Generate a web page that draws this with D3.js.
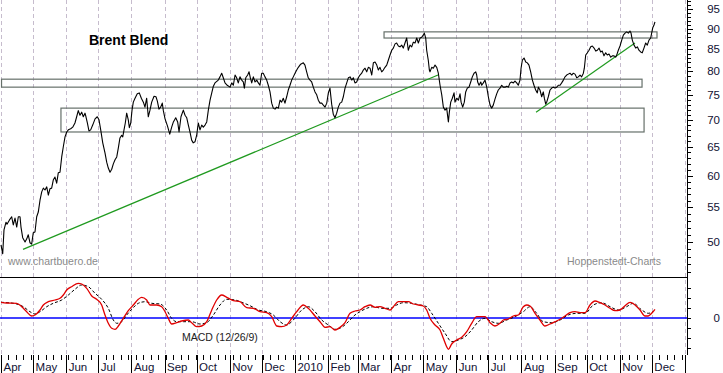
<!DOCTYPE html>
<html>
<head>
    <meta charset="utf-8">
    <title>Brent Blend</title>
    <style>
        body { margin: 0; background: #fff; }
        svg { display: block; font-family: 'Liberation Sans', Arial, sans-serif; }
    </style>
</head>
<body>
<div id='chart'></div>
<script src="https://cdn.jsdelivr.net/npm/d3@7"></script>
<script>

    // [days since 2009-04-01, close in USD]
    let price = [
      [0,49.6],[1.6,48.4],[2.8,51.7],[4.7,52.8],[5.6,52.5],[7.8,53.1],[10,53.6],[11.5,52.4],[13.1,53.4],[14.7,52.1],
      [16.2,53.6],[17.8,53.6],[18.7,52.1],[20.3,50.6],[22.5,50.0],[24.0,50.4],[25.5,51.0],[27.1,49.9],[28.7,49.7],[30.2,51.3],
      [31.8,51.4],[33.4,53.6],[34.9,54.3],[36.5,56.1],[38.1,57.4],[39.6,58.0],[41.2,57.7],[42.8,58.2],[44.3,56.9],[45.8,57.9],
      [47.4,58.0],[48.9,59.3],[50.5,59.8],[52.1,58.8],[53.6,60.5],[55.2,60.6],[56.8,63.2],[58.3,65.0],[59.9,66.8],[61.5,67.7],
      [63.0,68.1],[65.2,68.3],[67.1,68.6],[69.2,69.4],[70.8,70.6],[72.3,71.8],[73.9,70.9],[75.5,71.5],[77.0,70.6],[78.6,71.3],
      [79.5,70.6],[80.8,69.4],[82.3,67.9],[83.9,68.1],[85.8,69.0],[88.0,70.2],[90.1,70.6],[91.7,70.0],[93.3,68.1],[95.2,65.7],
      [97.3,63.9],[98.9,62.3],[100.4,61.3],[102.0,60.6],[103.6,61.1],[105.1,62.0],[106.7,62.7],[108.3,63.2],[109.8,64.8],[111.3,66.6],
      [112.9,67.1],[113.9,66.8],[115.1,68.1],[116.3,69.4],[117.6,71.3],[119.1,70.0],[120.1,68.5],[121.4,69.4],[122.6,71.9],[123.8,73.5],
      [125.4,74.3],[127.5,75.2],[129.4,75.4],[131.3,74.3],[133.2,73.5],[134.7,72.5],[136.3,74.3],[137.8,70.6],[139.4,71.9],[141.0,73.5],
      [143.2,74.7],[145.0,74.6],[146.3,73.7],[147.8,72.1],[149.4,72.5],[150.9,73.3],[151.9,71.8],[153.5,70.2],[155.8,68.8],[157.9,67.3],
      [159.7,68.6],[161.3,69.6],[163.5,70.4],[165.3,69.6],[166.6,67.7],[168.4,70.6],[170.6,71.9],[172.2,70.9],[173.8,70.4],[175.3,69.0],
      [176.8,67.7],[178.4,66.2],[179.9,65.7],[181.5,65.9],[183.1,67.1],[184.6,69.4],[186.2,68.1],[187.8,69.0],[189.3,68.6],[190.9,69.0],
      [192.5,69.6],[194.0,71.9],[195.6,73.9],[197.2,75.4],[198.7,76.8],[200.2,77.5],[203.3,78.1],[204.9,78.8],[206.5,79.6],[208.0,78.6],
      [209.6,77.5],[211.7,77.0],[214.3,76.6],[215.9,77.5],[217.4,77.0],[219.0,79.2],[220.5,78.6],[222.0,77.5],[223.6,78.8],[225.2,78.1],
      [226.7,77.7],[227.7,76.4],[229.0,78.6],[230.8,79.2],[232.1,79.9],[233.3,78.6],[234.6,77.5],[236.1,78.8],[237.7,77.7],[239.3,78.1],
      [240.8,77.5],[242.3,77.0],[243.9,79.6],[245.4,79.6],[247.0,78.8],[248.6,78.1],[250.1,77.0],[251.7,75.6],[253.3,73.3],[254.8,72.3],
      [256.4,72.1],[257.9,72.5],[259.5,72.3],[261.1,73.9],[262.6,73.5],[264.1,74.3],[265.7,73.3],[267.3,74.6],[268.8,76.0],[270.4,77.0],
      [272.0,78.1],[273.5,78.8],[275.1,79.6],[276.7,80.3],[278.2,80.9],[280.4,81.6],[282.9,81.9],[284.4,81.4],[286.0,79.9],[287.5,78.6],
      [289.1,78.1],[290.7,77.7],[292.2,76.6],[293.8,75.6],[295.4,75.0],[296.9,73.9],[298.5,73.3],[300.1,73.3],[301.6,72.9],[303.2,72.5],
      [304.8,73.3],[306.3,75.4],[307.8,76.4],[309.4,73.1],[310.9,71.1],[312.5,70.4],[314.1,71.3],[315.6,72.5],[317.2,73.3],[318.8,73.5],
      [320.3,74.6],[321.9,76.4],[323.5,77.5],[325.0,78.6],[326.6,78.8],[328.2,78.1],[329.7,78.6],[331.2,77.5],[332.8,77.7],[334.3,78.6],
      [335.9,79.2],[337.5,79.6],[339.0,80.3],[340.6,80.7],[342.2,79.9],[343.7,80.9],[345.3,80.7],[346.9,79.2],[348.4,81.9],[350.0,82.1],
      [351.6,81.4],[353.1,80.3],[354.6,80.9],[356.2,79.9],[357.7,80.3],[359.3,80.9],[360.9,81.4],[362.4,82.5],[364.0,83.7],[365.6,84.8],
      [367.1,85.3],[368.7,86.3],[370.2,86.5],[371.8,85.8],[373.3,85.6],[374.9,86.0],[376.4,85.3],[378.0,86.5],[379.6,87.7],[381.1,84.8],
      [382.7,86.0],[384.3,85.6],[385.8,86.7],[387.4,86.5],[389.0,87.7],[390.5,86.5],[392.1,87.7],[393.7,87.9],[395.1,88.4],[396.1,88.9],
      [397.4,87.7],[398.3,84.8],[399.8,82.5],[400.8,80.3],[401.4,79.9],[403.0,80.9],[404.5,80.7],[406.1,81.4],[407.7,80.9],[409.2,79.6],
      [410.8,77.0],[412.4,75.0],[413.9,72.5],[415.5,71.9],[417.0,72.3],[418.6,69.6],[419.5,71.5],[420.8,73.5],[422.3,74.3],[423.9,75.4],
      [424.8,73.5],[426.4,74.3],[428.0,73.9],[429.5,75.2],[430.5,73.5],[432.0,72.5],[433.5,73.5],[434.8,75.6],[436.3,76.4],[437.9,76.6],
      [439.5,77.7],[441.0,78.8],[442.6,79.6],[444.2,79.9],[445.1,79.2],[446.0,77.7],[447.3,77.0],[448.9,77.7],[449.8,77.0],[451.3,77.5],
      [452.9,78.1],[454.5,76.6],[456.0,74.6],[457.6,72.9],[459.1,72.3],[460.6,72.9],[462.2,74.1],[463.8,75.2],[465.3,76.0],[466.9,76.4],
      [468.5,77.0],[470.0,76.6],[471.6,76.6],[473.2,76.8],[474.7,76.6],[476.3,77.5],[477.8,77.7],[479.4,77.5],[480.9,77.9],[482.5,77.5],
      [484.0,77.0],[485.6,78.1],[486.6,80.7],[487.8,82.5],[489.4,83.0],[491.0,82.1],[492.5,81.9],[494.0,81.4],[495.6,79.9],[497.2,78.1],
      [498.7,77.0],[500.3,76.0],[501.8,75.4],[502.8,76.6],[504.3,76.0],[505.9,74.6],[507.4,75.6],[508.4,74.3],[509.7,73.1],[510.6,73.5],
      [512.1,74.6],[513.7,76.0],[515.3,76.4],[516.8,76.6],[518.4,76.4],[520.0,76.6],[521.5,77.0],[523.1,77.0],[524.6,77.5],[526.2,78.1],
      [527.7,78.8],[529.3,79.2],[530.8,79.4],[532.4,79.6],[534.0,79.2],[535.5,79.6],[537.1,79.4],[538.7,78.6],[540.2,78.8],[541.8,79.2],
      [543.3,78.8],[544.9,79.6],[545.8,80.7],[547.1,83.7],[548.6,84.2],[550.2,84.8],[551.8,85.6],[553.3,85.8],[554.9,85.3],[556.5,84.6],
      [558.0,84.8],[559.6,85.3],[561.1,84.4],[562.6,84.6],[564.2,83.5],[565.8,84.2],[567.3,83.7],[568.9,83.9],[570.5,83.2],[572.0,83.5],
      [573.6,83.5],[575.2,83.2],[576.4,83.9],[577.6,84.8],[579.2,85.8],[580.8,87.2],[582.3,88.4],[583.9,88.9],[585.4,89.2],[587.0,88.9],
      [588.5,89.4],[589.5,88.9],[590.7,87.2],[592.3,86.0],[593.9,85.3],[595.4,85.6],[596.9,84.8],[598.5,84.4],[600.0,84.2],[601.6,85.3],
      [603.2,86.5],[604.7,86.0],[606.3,87.2],[607.9,87.7],[608.8,88.9],[609.8,90.2],[611.0,90.9],[611.9,91.7]
    ];

    // MACD (12/26/9): [day, value]
    let macd = [
      [0,1.57],[5.3,1.5],[14.7,1.47],[19.4,1.13],[24.0,0.63],[28.7,0.2],[31.8,0.3],[36.5,0.8],[39.6,1.3],[44.3,1.63],
      [50.5,1.8],[55.2,1.97],[58.3,2.3],[61.5,2.8],[66.1,3.13],[72.3,3.47],[75.5,3.4],[80.2,2.97],[84.9,2.2],[89.5,1.87],
      [94.2,1.3],[97.3,0.3],[100.4,-0.53],[103.6,-1.03],[106.7,-1.13],[109.8,-0.8],[114.4,-0.03],[119.1,0.73],[123.8,1.3],[128.5,1.87],
      [131.6,2.07],[136.3,1.8],[139.4,1.3],[145.7,1.3],[150.4,1.13],[153.5,0.63],[156.5,-0.03],[159.7,-0.6],[164.4,-0.47],[169.1,-0.3],
      [175.3,-0.2],[178.4,-0.47],[183.1,-0.87],[187.8,-0.8],[192.5,-0.37],[197.2,0.8],[201.8,1.8],[206.5,2.3],[211.2,2.07],[217.4,1.73],
      [223.6,1.63],[229.9,1.03],[236.1,0.97],[242.3,0.63],[248.6,0.53],[253.3,0.13],[258.0,-0.8],[262.6,-0.87],[267.3,-0.7],[272.0,-0.03],
      [276.7,0.63],[282.9,1.3],[287.5,0.97],[293.8,0.2],[298.5,-0.37],[303.2,-0.93],[307.8,-0.87],[312.5,-1.2],[317.2,-0.93],[321.9,-0.47],
      [326.6,0.47],[331.2,0.7],[335.9,0.8],[340.6,1.13],[345.3,1.3],[350.0,1.07],[354.6,1.13],[359.3,0.97],[364.0,0.8],[367.1,1.13],
      [371.8,1.63],[376.4,1.63],[381.1,1.63],[385.8,1.4],[390.5,1.3],[395.1,1.2],[398.3,0.8],[401.4,-0.03],[406.1,-0.7],[410.8,-1.2],
      [413.9,-2.03],[417.0,-2.87],[418.6,-3.13],[421.7,-2.6],[426.4,-2.2],[431.1,-1.93],[435.8,-1.37],[440.4,-0.53],[445.1,0.13],[449.8,0.13],
      [452.9,0.13],[457.6,-0.47],[462.2,-0.8],[466.9,-0.53],[470.0,-0.2],[474.7,-0.1],[479.4,0.2],[484.0,0.3],[488.7,1.13],[491.9,1.3],
      [495.0,1.2],[499.7,0.47],[504.3,-0.2],[509.0,-0.8],[513.7,-0.6],[518.4,-0.37],[523.1,-0.13],[527.7,0.2],[532.4,0.53],[537.1,0.63],
      [541.8,0.53],[546.5,0.53],[551.1,1.3],[555.8,1.7],[560.5,1.53],[565.2,1.3],[569.9,0.97],[574.5,0.73],[579.2,0.8],[583.9,1.23],
      [588.6,1.57],[593.2,1.3],[597.9,0.8],[602.6,0.2],[605.6,0.2],[608.8,0.47],[611.9,0.87]
    ];

    let signal = [
      [0,1.57],[11.5,1.47],[20.9,1.13],[27.1,0.63],[31.8,0.4],[36.5,0.63],[42.8,1.13],[48.9,1.47],[56.8,1.8],[63.0,2.3],
      [69.2,2.87],[75.5,3.3],[81.7,3.13],[88.0,2.47],[94.2,1.87],[100.4,0.97],[105.1,-0.2],[108.3,-0.53],[112.9,-0.37],[117.6,0.3],
      [122.3,0.87],[128.5,1.47],[134.7,1.63],[141.0,1.47],[148.8,1.4],[155.0,0.8],[159.7,-0.03],[164.4,-0.37],[170.6,-0.37],[178.4,-0.37],
      [186.2,-0.6],[192.5,-0.47],[198.7,0.3],[204.9,1.3],[211.2,1.87],[219.0,1.8],[225.2,1.57],[233.0,1.23],[240.8,0.8],[248.6,0.63],
      [254.8,0.3],[261.1,-0.37],[267.3,-0.7],[273.5,-0.2],[281.4,0.8],[287.5,1.13],[293.8,0.63],[300.1,-0.2],[306.3,-0.7],[312.5,-1.13],
      [318.8,-0.93],[325.0,-0.37],[331.2,0.3],[335.9,0.63],[342.2,0.97],[348.4,1.13],[356.2,0.97],[364.0,0.97],[370.2,1.3],[376.4,1.53],
      [384.3,1.47],[392.1,1.3],[398.3,1.13],[403.0,0.47],[409.2,-0.53],[415.5,-1.53],[421.7,-2.37],[428.0,-2.2],[434.2,-1.87],[440.4,-1.2],
      [446.6,-0.37],[452.9,-0.03],[459.1,-0.37],[465.3,-0.53],[473.2,-0.2],[480.9,0.13],[488.7,0.63],[495.0,1.13],[501.2,0.47],[507.4,-0.37],
      [515.3,-0.47],[523.1,-0.2],[530.8,0.3],[538.7,0.47],[546.5,0.47],[554.2,1.3],[562.1,1.53],[569.9,1.13],[577.6,0.8],[585.4,1.13],
      [591.6,1.47],[599.5,0.8],[605.6,0.47],[610.3,0.63]
    ];

    // chart drawings: boxes [dayFrom, dayTo, low, high], trend lines [day1, value1, day2, value2]
    let boxes = [
      [358.4, 613.8, 87.7, 89.2],
      [0.5, 599.8, 76.6, 78.3],
      [56.1, 601.7, 67.7, 72.3]
    ];
    let trendLines = [
      [20.6, 49.0, 408.9, 79.2],
      [500.6, 71.5, 593.2, 86.5]
    ];

    let monthLabels = ['Apr','May','Jun','Jul','Aug','Sep','Oct','Nov','Dec','2010','Feb','Mar',
                       'Apr','May','Jun','Jul','Aug','Sep','Oct','Nov','Dec'];
    let priceLabels = [50, 55, 60, 65, 70, 75, 80, 85, 90, 95];
    let priceMinorTicks = d3.range(46, 98);
    let macdTicks = [-3, -2, -1, 0, 1, 2, 3];

    let svgWidth = 723;
    let svgHeight = 373;
    let axisX = 687;
    let priceBottom = 277;
    let macdBottom = 355;

    let startDate = new Date(2009, 3, 1);
    let endDate = new Date(2011, 0, 1);
    function dayToDate(d) {
      return new Date(startDate.getTime() + d * 864e5);
    }

    let x = d3.scaleTime().domain([startDate, endDate]).range([1, 685]);
    let y = d3.scaleLog().domain([50, 95]).range([242, 9]);
    let m = d3.scaleLinear().domain([-4, 4]).range([358, 278]);

    let svg = d3.select('#chart')
      .append('svg')
        .attr('width', svgWidth)
        .attr('height', svgHeight);

    let defs = svg.append('defs');
    defs.append('clipPath').attr('id', 'clipPrice')
      .append('rect').attr('x', 0).attr('y', 0).attr('width', axisX).attr('height', priceBottom);
    defs.append('clipPath').attr('id', 'clipMacd')
      .append('rect').attr('x', 0).attr('y', priceBottom).attr('width', axisX).attr('height', macdBottom - priceBottom);

    // month grid
    let months = d3.timeMonth.range(startDate, d3.timeDay.offset(endDate, 1));
    svg.append('g')
      .selectAll('line')
      .data(months)
      .enter()
        .append('line')
        .attr('x1', d => Math.round(x(d)) + 0.5)
        .attr('x2', d => Math.round(x(d)) + 0.5)
        .attr('y1', 0)
        .attr('y2', macdBottom)
        .attr('stroke', '#c6bccd')
        .attr('stroke-dasharray', '4,3');

    // texts inside the panels
    svg.append('text')
      .attr('x', 89).attr('y', 45)
      .style('font-size', '14px').style('font-weight', 'bold')
      .text('Brent Blend');
    svg.append('text')
      .attr('x', 8).attr('y', 265)
      .style('font-size', '10.5px').style('fill', '#8a8a8a')
      .text('www.chartbuero.de');
    svg.append('text')
      .attr('x', 567).attr('y', 265)
      .style('font-size', '10.5px').style('fill', '#8a8a8a')
      .text('Hoppenstedt-Charts');

    // boxes and trend lines
    let drawings = svg.append('g').attr('clip-path', 'url(#clipPrice)');
    drawings.selectAll('rect')
      .data(boxes)
      .enter()
        .append('rect')
        .attr('x', d => x(dayToDate(d[0])))
        .attr('y', d => y(d[3]))
        .attr('width', d => x(dayToDate(d[1])) - x(dayToDate(d[0])))
        .attr('height', d => y(d[2]) - y(d[3]))
        .attr('fill', 'none')
        .attr('stroke', '#66706a')
        .attr('stroke-width', 1.2);
    drawings.selectAll('line')
      .data(trendLines)
      .enter()
        .append('line')
        .attr('x1', d => x(dayToDate(d[0])))
        .attr('y1', d => y(d[1]))
        .attr('x2', d => x(dayToDate(d[2])))
        .attr('y2', d => y(d[3]))
        .attr('stroke', '#1f9a1f')
        .attr('stroke-width', 1.2);

    // price line
    let priceLine = d3.line()
      .x(d => x(dayToDate(d[0])))
      .y(d => y(d[1]));
    svg.append('path')
      .datum(price)
      .attr('clip-path', 'url(#clipPrice)')
      .attr('d', priceLine)
      .attr('fill', 'none')
      .attr('stroke', '#000')
      .attr('stroke-width', 1.1)
      .attr('stroke-linejoin', 'round');

    // MACD panel
    svg.append('line')
      .attr('x1', 0).attr('x2', axisX)
      .attr('y1', priceBottom + 0.5).attr('y2', priceBottom + 0.5)
      .attr('stroke', '#000').attr('stroke-width', 1.2);
    svg.append('line')
      .attr('x1', 0).attr('x2', axisX)
      .attr('y1', m(0)).attr('y2', m(0))
      .attr('stroke', '#0000ff').attr('stroke-width', 1.3);

    let macdLine = d3.line()
      .curve(d3.curveMonotoneX)
      .x(d => x(dayToDate(d[0])))
      .y(d => m(d[1]));
    svg.append('path')
      .datum(signal)
      .attr('clip-path', 'url(#clipMacd)')
      .attr('d', macdLine)
      .attr('fill', 'none')
      .attr('stroke', '#000')
      .attr('stroke-width', 1)
      .attr('stroke-dasharray', '3,2');
    svg.append('path')
      .datum(macd)
      .attr('clip-path', 'url(#clipMacd)')
      .attr('d', macdLine)
      .attr('fill', 'none')
      .attr('stroke', '#e00000')
      .attr('stroke-width', 1.3);

    svg.append('text')
      .attr('x', 182).attr('y', 341)
      .style('font-size', '10.5px').style('fill', '#222')
      .text('MACD (12/26/9)');

    // right axis
    let right = svg.append('g');
    right.append('line')
      .attr('x1', axisX + 0.5).attr('x2', axisX + 0.5)
      .attr('y1', 0).attr('y2', macdBottom)
      .attr('stroke', '#000');
    right.selectAll('.minor')
      .data(priceMinorTicks)
      .enter()
        .append('line')
        .attr('x1', axisX).attr('x2', d => axisX + (d % 5 === 0 ? 6 : 4))
        .attr('y1', d => Math.round(y(d)) + 0.5)
        .attr('y2', d => Math.round(y(d)) + 0.5)
        .attr('stroke', '#000');
    right.selectAll('.plabel')
      .data(priceLabels)
      .enter()
        .append('text')
        .attr('x', 720)
        .attr('y', d => y(d) + 4)
        .attr('text-anchor', 'end')
        .style('font-size', '11.5px')
        .style('fill', '#111133')
        .text(d => d);
    right.selectAll('.mtick')
      .data(macdTicks)
      .enter()
        .append('line')
        .attr('x1', axisX).attr('x2', axisX + 4)
        .attr('y1', d => Math.round(m(d)) + 0.5)
        .attr('y2', d => Math.round(m(d)) + 0.5)
        .attr('stroke', '#000');
    right.append('text')
      .attr('x', 720).attr('y', m(0) + 4)
      .attr('text-anchor', 'end')
      .style('font-size', '11.5px')
      .style('fill', '#111133')
      .text('0');

    // time axis
    let bottom = svg.append('g');
    bottom.selectAll('.week')
      .data(d3.timeWednesday.range(startDate, endDate))
      .enter()
        .append('line')
        .attr('x1', d => Math.round(x(d)) + 0.5)
        .attr('x2', d => Math.round(x(d)) + 0.5)
        .attr('y1', macdBottom).attr('y2', macdBottom + 5)
        .attr('stroke', '#000');
    bottom.selectAll('.month')
      .data(months)
      .enter()
        .append('line')
        .attr('x1', d => Math.round(x(d)) + 0.5)
        .attr('x2', d => Math.round(x(d)) + 0.5)
        .attr('y1', macdBottom).attr('y2', svgHeight)
        .attr('stroke', '#000');
    bottom.selectAll('text')
      .data(monthLabels)
      .enter()
        .append('text')
        .attr('x', (d, i) => x(months[i]) + 2.5)
        .attr('y', 371)
        .style('font-size', '11.5px')
        .style('fill', '#111133')
        .text(d => d);

</script>
</body>
</html>
